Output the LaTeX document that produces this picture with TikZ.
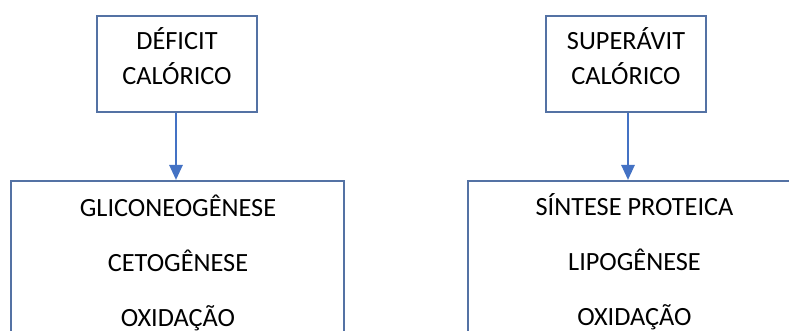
\documentclass[tikz,border=0pt]{standalone}
\usepackage{fontspec}
\setmainfont{Carlito}
\usetikzlibrary{arrows.meta}
\definecolor{boxline}{RGB}{84,114,164}
\definecolor{arrblue}{RGB}{68,114,196}
\tikzset{
  box/.style={draw=boxline, line width=1.6pt, rectangle, inner sep=0pt},
  txt/.style={font=\fontsize{26.3}{30}\selectfont, text=black, inner sep=0pt, anchor=base},
  arr/.style={draw=arrblue, line width=2.6pt, -{Triangle[width=13pt,length=15pt]}}
}
\begin{document}
\begin{tikzpicture}[x=1pt,y=-1pt]
\useasboundingbox (0,0) rectangle (789,331);
\fill[white] (0,0) rectangle (789,331);
\clip (0,0) rectangle (789,331);
% top boxes
\node[box, minimum width=160pt, minimum height=96pt] (a1) at (177,64) {};
\node[box, minimum width=160pt, minimum height=96pt] (a2) at (626,64) {};
% bottom boxes (cut off by the picture's lower edge)
\node[box, minimum width=333pt, minimum height=220pt, anchor=north] (b1) at (177.5,180) {};
\node[box, minimum width=333pt, minimum height=220pt, anchor=north] (b2) at (634.5,180) {};
% texts
\node[txt] (t11) at (177,49.5) {DÉFICIT};
\node[txt] (t12) at (177,84.5) {CALÓRICO};
\node[txt] (t21) at (626,49.5) {SUPERÁVIT};
\node[txt] (t22) at (626,84.5) {CALÓRICO};
\node[txt] (u11) at (178,216) {GLICONEOGÊNESE};
\node[txt] (u12) at (178,271) {CETOGÊNESE};
\node[txt] (u13) at (178,326) {OXIDAÇÃO};
\node[txt] (u21) at (634.5,215) {SÍNTESE PROTEICA};
\node[txt] (u22) at (634.5,270) {LIPOGÊNESE};
\node[txt] (u23) at (634.5,325) {OXIDAÇÃO};
% arrows
\draw[arr] (a1.south -| 176,0) -- (b1.north -| 176,0);
\draw[arr] (a2.south -| 628,0) -- (b2.north -| 628,0);
\end{tikzpicture}
\end{document}
